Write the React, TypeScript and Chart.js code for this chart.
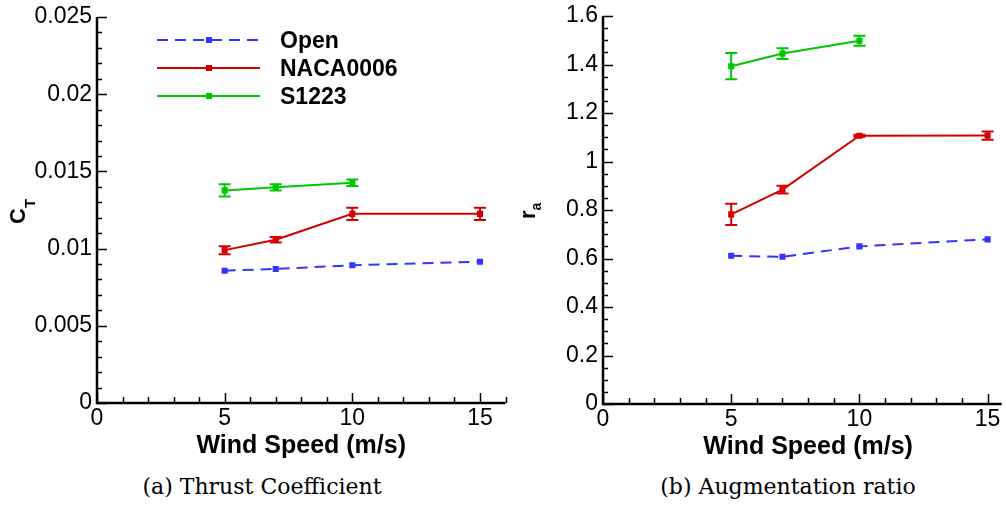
import React, { useEffect, useRef } from 'react';
import { Chart, registerables } from 'chart.js';

Chart.register(...registerables);

// ---------- data ----------
const windSpeed = [5, 7, 10, 15];
const windSpeedS1223 = [5, 7, 10];
const xTicks = [0, 5, 10, 15];
const xTickLabels = ['0', '5', '10', '15'];

const seriesNames = ['Open', 'NACA0006', 'S1223'];
const seriesColors = ['#3434ff', '#d40000', '#00c800'];

// (a) Thrust coefficient C_T
const ctOpen = [0.00857, 0.00868, 0.00892, 0.00915];
const ctNaca = [0.0099, 0.01057, 0.01225, 0.01225];
const ctNacaErr = [0.00026, 0.00018, 0.0004, 0.0004];
const ctS1223 = [0.01377, 0.01397, 0.01427];
const ctS1223Err = [0.0004, 0.0002, 0.00021];
const ctTicks = [0, 0.005, 0.01, 0.015, 0.02, 0.025];
const ctTickLabels = ['0', '0.005', '0.01', '0.015', '0.02', '0.025'];

// (b) Augmentation ratio r_a
const raOpen = [0.611, 0.607, 0.65, 0.679];
const raNaca = [0.782, 0.884, 1.106, 1.107];
const raNacaErr = [0.044, 0.016, 0.004, 0.017];
const raS1223 = [1.393, 1.445, 1.498];
const raS1223Err = [0.054, 0.022, 0.021];
const raTicks = [0, 0.2, 0.4, 0.6, 0.8, 1, 1.2, 1.4, 1.6];
const raTickLabels = ['0', '0.2', '0.4', '0.6', '0.8', '1', '1.2', '1.4', '1.6'];

const FONT = '"Liberation Sans", Arial, Helvetica, sans-serif';

type PanelCfg = {
  width: number;
  height: number;
  padTop: number;
  padRight: number;
  yAxisWidth: number;
  xAxisBottom: number;
  xMax: number;
  yMax: number;
  yTicks: number[];
  yTickLabels: string[];
  yMinor: number;
  yMain: string;
  ySub: string;
  yTitleX: number;
  yTitleY: number;
  ySubDrop: number;
  ySubSize: number;
  xTitleBaseline: number;
  legend: boolean;
  series: { x: number[]; y: number[]; err?: number[] }[];
};

function buildDatasets(cfg: PanelCfg) {
  return cfg.series.map((s, i) => ({
    label: seriesNames[i],
    data: s.x.map((x, j) => ({ x, y: s.y[j] })),
    errors: s.err || null,
    borderColor: seriesColors[i],
    backgroundColor: seriesColors[i],
    pointBackgroundColor: seriesColors[i],
    pointBorderWidth: 0,
    pointStyle: 'rect',
    pointRadius: 4.3,
    borderWidth: 2,
    borderDash: i === 0 ? [11, 7] : [],
    tension: 0,
    fill: false,
    showLine: true,
  }));
}

function decoPlugin(cfg: PanelCfg) {
  return {
    id: 'deco',
    afterDatasetsDraw(chart: any) {
      const ctx = chart.ctx;
      const ys = chart.scales.y;
      chart.data.datasets.forEach((ds: any, i: number) => {
        if (!ds.errors) return;
        const meta = chart.getDatasetMeta(i);
        ctx.save();
        ctx.strokeStyle = ds.borderColor;
        ctx.lineWidth = 2;
        ctx.setLineDash([]);
        ds.data.forEach((p: any, j: number) => {
          const e = ds.errors[j];
          const x = meta.data[j].x;
          const y1 = ys.getPixelForValue(p.y + e);
          const y2 = ys.getPixelForValue(p.y - e);
          ctx.beginPath();
          ctx.moveTo(x, y1);
          ctx.lineTo(x, y2);
          ctx.moveTo(x - 6, y1);
          ctx.lineTo(x + 6, y1);
          ctx.moveTo(x - 6, y2);
          ctx.lineTo(x + 6, y2);
          ctx.stroke();
        });
        ctx.restore();
      });
    },
    afterDraw(chart: any) {
      const ctx = chart.ctx;
      const { left, right, top, bottom } = chart.chartArea;
      const xs = chart.scales.x;
      const ys = chart.scales.y;
      ctx.save();
      ctx.strokeStyle = '#000';
      ctx.fillStyle = '#000';
      // axis lines
      ctx.lineWidth = 2.5;
      ctx.beginPath();
      ctx.moveTo(left, top);
      ctx.lineTo(left, bottom);
      ctx.lineTo(right, bottom);
      ctx.stroke();
      // y ticks
      ctx.lineWidth = 1.5;
      const nY = Math.round(cfg.yMax / cfg.yMinor);
      for (let k = 0; k <= nY; k++) {
        const v = k * cfg.yMinor;
        const yp = Math.round(ys.getPixelForValue(v)) + 0.5;
        const major = cfg.yTicks.some((t) => Math.abs(t - v) < cfg.yMinor / 10);
        const len = major ? 10 : 5;
        ctx.beginPath();
        ctx.moveTo(left, yp);
        ctx.lineTo(left + len, yp);
        ctx.stroke();
      }
      // x ticks
      for (let v = 0; v <= cfg.xMax + 1e-9; v += 1) {
        const xp = Math.round(xs.getPixelForValue(v)) + 0.5;
        const len = v % 5 === 0 ? 10 : 6;
        ctx.beginPath();
        ctx.moveTo(xp, bottom);
        ctx.lineTo(xp, bottom - len);
        ctx.stroke();
      }
      // x title
      ctx.font = `bold 25px ${FONT}`;
      ctx.textAlign = 'center';
      ctx.textBaseline = 'alphabetic';
      ctx.fillText('Wind Speed (m/s)', xs.getPixelForValue(8), cfg.xTitleBaseline);
      // y title (rotated, with subscript)
      ctx.save();
      ctx.translate(cfg.yTitleX, cfg.yTitleY);
      ctx.rotate(-Math.PI / 2);
      ctx.textAlign = 'left';
      ctx.font = `bold 22px ${FONT}`;
      ctx.fillText(cfg.yMain, 0, 0);
      const w = ctx.measureText(cfg.yMain).width;
      ctx.font = `bold ${cfg.ySubSize}px ${FONT}`;
      ctx.fillText(cfg.ySub, w, cfg.ySubDrop);
      ctx.restore();
      // legend
      if (cfg.legend) {
        chart.data.datasets.forEach((ds: any, i: number) => {
          const ly = 40 + 28 * i;
          ctx.save();
          ctx.strokeStyle = ds.borderColor;
          ctx.fillStyle = ds.borderColor;
          ctx.lineWidth = 2;
          ctx.setLineDash(ds.borderDash);
          ctx.beginPath();
          ctx.moveTo(157, ly);
          ctx.lineTo(260, ly);
          ctx.stroke();
          ctx.setLineDash([]);
          ctx.fillRect(206, ly - 3, 6, 6);
          ctx.fillStyle = '#000';
          ctx.font = `bold 23px ${FONT}`;
          ctx.textAlign = 'left';
          ctx.textBaseline = 'alphabetic';
          ctx.fillText(ds.label, 280, ly + 8.3);
          ctx.restore();
        });
      }
      ctx.restore();
    },
  };
}

function Panel({ cfg }: { cfg: PanelCfg }) {
  const ref = useRef<HTMLCanvasElement | null>(null);
  useEffect(() => {
    if (!ref.current) return;
    const chart = new Chart(ref.current, {
      type: 'line',
      data: { datasets: buildDatasets(cfg) as any },
      options: {
        animation: false,
        responsive: false,
        maintainAspectRatio: false,
        layout: { padding: { top: cfg.padTop, right: cfg.padRight, left: 0, bottom: 0 } },
        plugins: { legend: { display: false }, tooltip: { enabled: false } },
        scales: {
          x: {
            type: 'linear',
            min: 0,
            max: cfg.xMax,
            grid: { display: false, drawTicks: false },
            border: { display: false },
            afterBuildTicks: (s: any) => {
              s.ticks = xTicks.map((v) => ({ value: v }));
            },
            afterFit: (s: any) => {
              s.height = cfg.height - cfg.xAxisBottom;
              s.paddingRight = 0;
              s.paddingLeft = 0;
            },
            ticks: {
              padding: 2,
              color: '#000',
              maxRotation: 0,
              autoSkip: false,
              font: { family: FONT, size: 23 },
              callback: (_v: any, i: number) => xTickLabels[i],
            },
          },
          y: {
            type: 'linear',
            min: 0,
            max: cfg.yMax,
            grid: { display: false, drawTicks: false },
            border: { display: false },
            afterBuildTicks: (s: any) => {
              s.ticks = cfg.yTicks.map((v) => ({ value: v }));
            },
            afterFit: (s: any) => {
              s.width = cfg.yAxisWidth;
              s.paddingTop = 0;
              s.paddingBottom = 0;
            },
            ticks: {
              padding: 5,
              color: '#000',
              autoSkip: false,
              font: { family: FONT, size: 23 },
              callback: (_v: any, i: number) => cfg.yTickLabels[i],
            },
          },
        },
      } as any,
      plugins: [decoPlugin(cfg)],
    });
    return () => chart.destroy();
  }, [cfg]);
  return (
    <canvas
      ref={ref}
      width={cfg.width}
      height={cfg.height}
      style={{ width: cfg.width, height: cfg.height, display: 'block' }}
    />
  );
}

const leftCfg: PanelCfg = {
  width: 510,
  height: 470,
  padTop: 17,
  padRight: 4.5,
  yAxisWidth: 97,
  xAxisBottom: 403,
  xMax: 16,
  yMax: 0.025,
  yTicks: ctTicks,
  yTickLabels: ctTickLabels,
  yMinor: 0.001,
  yMain: 'C',
  ySub: 'T',
  yTitleX: 25,
  yTitleY: 224,
  ySubDrop: 10,
  ySubSize: 15,
  xTitleBaseline: 453,
  legend: true,
  series: [
    { x: windSpeed, y: ctOpen },
    { x: windSpeed, y: ctNaca, err: ctNacaErr },
    { x: windSpeedS1223, y: ctS1223, err: ctS1223Err },
  ],
};

const rightCfg: PanelCfg = {
  width: 496,
  height: 470,
  padTop: 16,
  padRight: 0,
  yAxisWidth: 93,
  xAxisBottom: 404,
  xMax: 15.55,
  yMax: 1.6,
  yTicks: raTicks,
  yTickLabels: raTickLabels,
  yMinor: 0.05,
  yMain: 'r',
  ySub: 'a',
  yTitleX: 25,
  yTitleY: 219,
  ySubDrop: 6,
  ySubSize: 14,
  xTitleBaseline: 454,
  legend: false,
  series: [
    { x: windSpeed, y: raOpen },
    { x: windSpeed, y: raNaca, err: raNacaErr },
    { x: windSpeedS1223, y: raS1223, err: raS1223Err },
  ],
};

const captionStyle = (center: number): React.CSSProperties => ({
  position: 'absolute',
  left: center - 200,
  width: 400,
  top: 476,
  textAlign: 'center',
  fontFamily: '"DejaVu Serif", serif',
  fontSize: 22,
  lineHeight: '22px',
  color: '#000',
  whiteSpace: 'nowrap',
});

export default function App() {
  useEffect(() => {
    document.body.style.margin = '0';
    document.body.style.background = '#fff';
  }, []);
  return (
    <div style={{ position: 'relative', width: 1006, height: 506, overflow: 'hidden', background: '#fff' }}>
      <div style={{ position: 'absolute', left: 0, top: 0 }}>
        <Panel cfg={leftCfg} />
      </div>
      <div style={{ position: 'absolute', left: 510, top: 0 }}>
        <Panel cfg={rightCfg} />
      </div>
      <div style={captionStyle(262)}>(a) Thrust Coefficient</div>
      <div style={captionStyle(788)}>(b) Augmentation ratio</div>
    </div>
  );
}
